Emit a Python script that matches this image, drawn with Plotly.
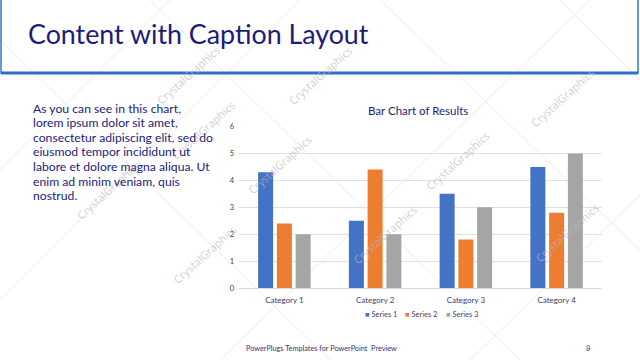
import plotly.graph_objects as go

categories = ["Category 1", "Category 2", "Category 3", "Category 4"]
series_names = ["Series 1", "Series 2", "Series 3"]
series1 = [4.3, 2.5, 3.5, 4.5]
series2 = [2.4, 4.4, 1.8, 2.8]
series3 = [2.0, 2.0, 3.0, 5.0]
colors = ["#4472C4", "#ED7D31", "#A5A5A5"]
y_ticks = [0, 1, 2, 3, 4, 5, 6]

body_lines = [
    "As you can see in this chart,",
    "lorem ipsum dolor sit amet,",
    "consectetur adipiscing elit, sed do",
    "eiusmod tempor incididunt ut",
    "labore et dolore magna aliqua. Ut",
    "enim ad minim veniam, quis",
    "nostrud.",
]

W, H = 640, 360
NAVY = "#1c1c78"

fig = go.Figure()
for name, vals, c in zip(series_names, [series1, series2, series3], colors):
    fig.add_trace(go.Bar(x=categories, y=vals, name=name, showlegend=False,
                         marker=dict(color=c, line=dict(width=0))))

def px(x):
    return x / W

def py(y):
    return 1 - y / H

shapes = []
annotations = []

# watermark diagonal lines (faint)
wm_lines = [
    ((0, 40), (330, 360)), ((150, 0), (520, 360)), ((380, 0), (640, 250)),
    ((0, 300), (300, 0)), ((220, 360), (590, 0)), ((470, 360), (640, 195)),
    ((560, 0), (640, 80)), ((0, 170), (170, 0)),
]
for (x0, y0), (x1, y1) in wm_lines:
    shapes.append(dict(type="line", xref="paper", yref="paper",
                       x0=px(x0), y0=py(y0), x1=px(x1), y1=py(y1),
                       line=dict(color="rgba(200,200,200,0.35)", width=1), layer="below"))

# header box
shapes.append(dict(type="rect", xref="paper", yref="paper",
                   x0=px(1), y0=py(73), x1=px(638), y1=py(-3),
                   line=dict(color="#3a74d0", width=1.5), fillcolor="rgba(0,0,0,0)", layer="below"))
shapes.append(dict(type="line", xref="paper", yref="paper",
                   x0=px(1), y0=py(73), x1=px(638), y1=py(73),
                   line=dict(color="#2f6ccc", width=3)))

# watermark texts
wm_pos = [(165, 95), (280, 165), (495, 160), (70, 190), (167, 290), (385, 270),
          (605, 268), (320, 40), (600, 62), (150, 40)]
for x, y in wm_pos:
    annotations.append(dict(text="CrystalGraphics", xref="paper", yref="paper",
                            x=px(x), y=py(y), showarrow=False, textangle=-42,
                            font=dict(family="Open Sans", size=11, color="rgba(185,185,185,0.7)")))

# slide title
annotations.append(dict(text="Content with Caption Layout", xref="paper", yref="paper",
                        x=px(26), y=py(34), xanchor="left", yanchor="middle", showarrow=False,
                        font=dict(family="Lato", size=26.8, color=NAVY)))

# body text
for i, line in enumerate(body_lines):
    annotations.append(dict(text=line, xref="paper", yref="paper",
                            x=px(31), y=py(108 + i * 14.6), xanchor="left", yanchor="middle",
                            showarrow=False, font=dict(family="Lato", size=12.2, color=NAVY)))

# chart title
annotations.append(dict(text="Bar Chart of Results", xref="paper", yref="paper",
                        x=px(418), y=py(110), xanchor="center", yanchor="middle", showarrow=False,
                        font=dict(family="Lato", size=11.5, color=NAVY)))

# manual compact legend (built from series names and colours)
legend_x = [363, 403, 444]
for name, c, lx in zip(series_names, colors, legend_x):
    annotations.append(dict(text=f'<span style="color:{c}">■</span> {name}', xref="paper", yref="paper",
                            x=px(lx), y=py(314), xanchor="left", yanchor="middle", showarrow=False,
                            font=dict(family="Lato", size=7.5, color="#404070")))

# footer
annotations.append(dict(text="PowerPlugs Templates for PowerPoint  Preview", xref="paper", yref="paper",
                        x=px(244), y=py(348), xanchor="left", yanchor="middle", showarrow=False,
                        font=dict(family="Lato", size=7.3, color="#3a3470")))
annotations.append(dict(text="8", xref="paper", yref="paper",
                        x=px(588), y=py(348), xanchor="center", yanchor="middle", showarrow=False,
                        font=dict(family="Lato", size=7.5, color="#3a3470")))

fig.update_layout(
    width=W, height=H,
    margin=dict(l=0, r=0, t=0, b=0, autoexpand=False),
    paper_bgcolor="white", plot_bgcolor="rgba(0,0,0,0)",
    barmode="group", bargap=0.38, bargroupgap=0.2,
    shapes=shapes, annotations=annotations,
    showlegend=False,
    xaxis=dict(domain=[px(239), px(602)], anchor="y", showgrid=False, automargin=False,
               showline=True, linecolor="#d9d9d9", linewidth=1, ticks="", ticklabelstandoff=4,
               tickfont=dict(family="Lato", size=8, color="#404070"), fixedrange=True),
    yaxis=dict(domain=[py(288), py(126.5)], range=[0, 6], tickvals=y_ticks, automargin=False,
               showgrid=True, gridcolor="#e0e0e0", gridwidth=1, zeroline=False,
               showline=False, ticks="", ticklen=0, ticklabelstandoff=4,
               tickfont=dict(family="Lato", size=7.5, color="#404040")),
)

fig.write_html("out.html")
